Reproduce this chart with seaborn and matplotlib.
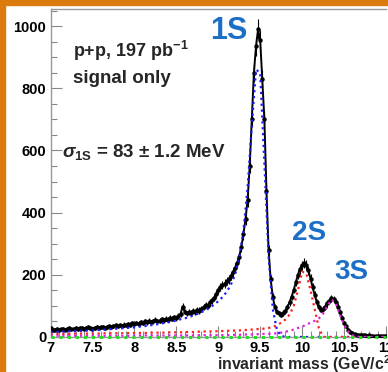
"""
upsilon_plot.py - Upsilon signal-only invariant mass spectrum with fit components.
"""

import numpy as np
import matplotlib
matplotlib.use("Agg")
import matplotlib.pyplot as plt
from matplotlib.patches import Rectangle
from matplotlib.ticker import MultipleLocator
import seaborn as sns

# data points, 25 MeV bins from 7.0 to 11.0 GeV/c^2
mass = np.round(np.arange(7.0, 11.0001, 0.025), 3)
counts = [
    28, 22, 24, 26, 23, 25, 27, 24, 26, 28,
    25, 27, 29, 26, 28, 30, 27, 29, 31, 28,
    27, 30, 32, 29, 31, 33, 30, 33, 35, 32,
    35, 37, 34, 39, 36, 40, 38, 42, 40, 45,
    43,
    46, 43, 49, 45, 50, 47, 52, 48, 51, 55,
    50, 53, 57, 54, 59, 56, 62, 58, 64, 61,
    68, 74, 98, 82, 76, 80, 78, 85, 81, 88,
    85, 90, 96, 104, 99, 112, 118, 126, 138, 150,
    160, 166, 172, 180, 186, 196, 208, 222, 238, 258,
    290, 330, 380, 440, 550, 700, 850, 935, 990, 955,
    830, 700, 470, 280, 185, 130, 95, 82, 76, 72,
    78, 84, 96, 112, 130, 152, 176, 200, 218, 230,
    238, 232, 214, 188, 160, 135, 112, 96, 88, 90,
    98, 108, 116, 124, 122, 112, 98, 80, 62, 46,
    34, 24, 17, 12, 9, 8, 6, 7, 5, 6,
    4, 5, 4, 3, 4, 3, 2, 3, 2, 2,
]
errors = [
    6, 5, 5, 6, 5, 5, 6, 5, 6, 6,
    5, 6, 6, 6, 6, 6, 6, 6, 6, 6,
    6, 6, 6, 6, 6, 6, 6, 6, 6, 6,
    6, 7, 6, 7, 7, 7, 7, 7, 7, 7,
    7,
    7, 7, 7, 7, 7, 7, 8, 7, 8, 8,
    7, 8, 8, 8, 8, 8, 8, 8, 8, 8,
    9, 9, 10, 9, 9, 9, 9, 9, 9, 10,
    10, 10, 10, 10, 10, 11, 11, 11, 12, 12,
    13, 13, 13, 13, 14, 14, 14, 15, 15, 16,
    17, 18, 19, 21, 23, 26, 29, 31, 32, 31,
    29, 26, 22, 17, 14, 11, 10, 9, 9, 9,
    9, 9, 10, 11, 11, 12, 13, 14, 15, 15,
    15, 15, 15, 14, 13, 12, 11, 10, 9, 10,
    10, 10, 11, 11, 11, 11, 10, 9, 8, 7,
    6, 5, 4, 3, 3, 3, 2, 3, 2, 2,
    2, 2, 2, 2, 2, 2, 1, 2, 1, 1,
]

# fit components, 50 MeV grid
fit_mass = np.round(np.arange(7.0, 11.0001, 0.05), 2)
fit_1s = [
    16, 16, 17, 17, 18, 18, 19, 19, 20, 21,
    21, 22, 23, 24, 25, 26, 27, 28, 29, 30,
    31, 33, 34, 36, 38, 40, 42, 45, 47, 50,
    53, 57, 60, 64, 69, 74, 80, 87, 95, 104,
    115, 128, 145, 168, 200, 255, 340, 480, 680, 860,
    850, 560, 260, 90, 22, 4, 0, 0, 0, 0,
    0, 0, 0, 0, 0, 0, 0, 0, 0, 0,
    0, 0, 0, 0, 0, 0, 0, 0, 0, 0,
    0,
]
fit_2s = [
    10, 10, 10, 10, 10, 10, 11, 11, 11, 11,
    11, 11, 11, 12, 12, 12, 12, 12, 12, 13,
    13, 13, 13, 13, 14, 14, 14, 14, 15, 15,
    15, 15, 16, 16, 16, 17, 17, 18, 18, 18,
    19, 19, 20, 20, 21, 21, 22, 23, 24, 25,
    26, 27, 29, 32, 38, 46, 56, 72, 100, 150,
    210, 205, 150, 90, 28, 0, 0, 0, 0, 0,
    0, 0, 0, 0, 0, 0, 0, 0, 0, 0,
    0,
]
fit_3s = [
    4, 4, 4, 4, 4, 4, 4, 4, 4, 4,
    4, 4, 4, 4, 4, 4, 4, 4, 4, 4,
    5, 5, 5, 5, 5, 5, 5, 5, 5, 5,
    5, 5, 5, 5, 5, 6, 6, 6, 6, 6,
    6, 6, 6, 7, 7, 7, 8, 8, 8, 9,
    9, 10, 10, 11, 12, 14, 17, 20, 24, 29,
    33, 40, 46, 52, 60, 75, 100, 120, 110, 72,
    40, 18, 6, 1, 0, 0, 0, 0, 0, 0,
    0,
]
bkg_mass = [7.0, 11.0]
bkg = [0, 0]

ORANGE = "#db7b0e"
LABEL_BLUE = "#1b6fc6"


def main():
    sns.set_style("ticks")
    plt.rcParams["font.family"] = ["Liberation Sans", "DejaVu Sans"]
    plt.rcParams["font.weight"] = "bold"
    plt.rcParams["mathtext.fontset"] = "custom"
    plt.rcParams["mathtext.rm"] = "Liberation Sans"
    plt.rcParams["mathtext.bf"] = "Liberation Sans:bold"
    plt.rcParams["mathtext.it"] = "Liberation Sans:italic"

    fig = plt.figure(figsize=(3.88, 3.72), dpi=100)
    ax = fig.add_axes([50.5 / 388, 35 / 372, 335.5 / 388, 328 / 372])

    # data
    ax.errorbar(mass, counts, yerr=errors, fmt="none", ecolor="black",
                elinewidth=0.8, capsize=0, zorder=3)
    sns.lineplot(x=mass, y=counts, ax=ax, color="black", lw=1.4,
                 marker="o", markersize=3.2, markeredgewidth=0, zorder=3)

    # fit components
    sns.lineplot(x=fit_mass, y=fit_1s, ax=ax, color="#1a1aff", lw=1.6,
                 linestyle=":", zorder=4)
    sns.lineplot(x=fit_mass, y=fit_2s, ax=ax, color="#ff2020", lw=1.6,
                 linestyle=":", zorder=4)
    sns.lineplot(x=fit_mass, y=fit_3s, ax=ax, color="#e020e0", lw=1.6,
                 linestyle=":", zorder=4)
    sns.lineplot(x=bkg_mass, y=bkg, ax=ax, color="#22dd22", lw=2.2,
                 linestyle=":", zorder=5, clip_on=False)

    ax.set_xlim(7, 11)
    ax.set_ylim(0, 1055)
    ax.xaxis.set_major_locator(MultipleLocator(0.5))
    ax.xaxis.set_minor_locator(MultipleLocator(0.1))
    ax.yaxis.set_major_locator(MultipleLocator(200))
    ax.yaxis.set_minor_locator(MultipleLocator(50))
    ax.set_xticks([7, 7.5, 8, 8.5, 9, 9.5, 10, 10.5, 11])
    ax.set_xticklabels(["7", "7.5", "8", "8.5", "9", "9.5", "10", "10.5", "11"])
    ax.tick_params(which="both", direction="in", colors="#888888",
                   labelcolor="black", labelsize=10.5, width=0.8,
                   top=False, right=False)
    ax.tick_params(which="major", length=8, pad=3)
    ax.tick_params(which="minor", length=4)
    for lab in ax.get_xticklabels() + ax.get_yticklabels():
        lab.set_fontweight("bold")
    for side in ["left", "bottom", "top"]:
        ax.spines[side].set_color("#999999")
        ax.spines[side].set_linewidth(1.0)
    ax.spines["right"].set_visible(False)
    ax.set_xlabel("")
    ax.set_ylabel("")

    # annotations
    ax.text(7.27, 920, r"p+p, 197 pb$^{\mathbf{-1}}$", fontsize=13,
            fontweight="bold", va="center")
    ax.text(7.27, 830, "signal only", fontsize=13.5, fontweight="bold",
            va="center")
    ax.text(7.14, 595, r"$\sigma_{\mathbf{1S}}$ = 83 $\pm$ 1.2 MeV",
            fontsize=13.5, fontweight="bold", va="center")
    ax.text(8.9, 985, "1S", fontsize=22, fontweight="bold",
            color=LABEL_BLUE, va="center")
    ax.text(9.88, 335, "2S", fontsize=20, fontweight="bold",
            color=LABEL_BLUE, va="center")
    ax.text(10.39, 208, "3S", fontsize=20, fontweight="bold",
            color=LABEL_BLUE, va="center")

    fig.text(1.02, 0.02, r"invariant mass (GeV/c$^{\mathbf{2}}$)",
             fontsize=11.4, fontweight="bold", ha="right", va="center")

    # orange frame on top and left
    fig.patches.append(Rectangle((0, 1 - 5 / 372), 1, 5 / 372,
                                 transform=fig.transFigure, color=ORANGE))
    fig.patches.append(Rectangle((0, 0), 5 / 388, 1,
                                 transform=fig.transFigure, color=ORANGE))

    fig.savefig("out.png", dpi=100)


if __name__ == "__main__":
    main()
